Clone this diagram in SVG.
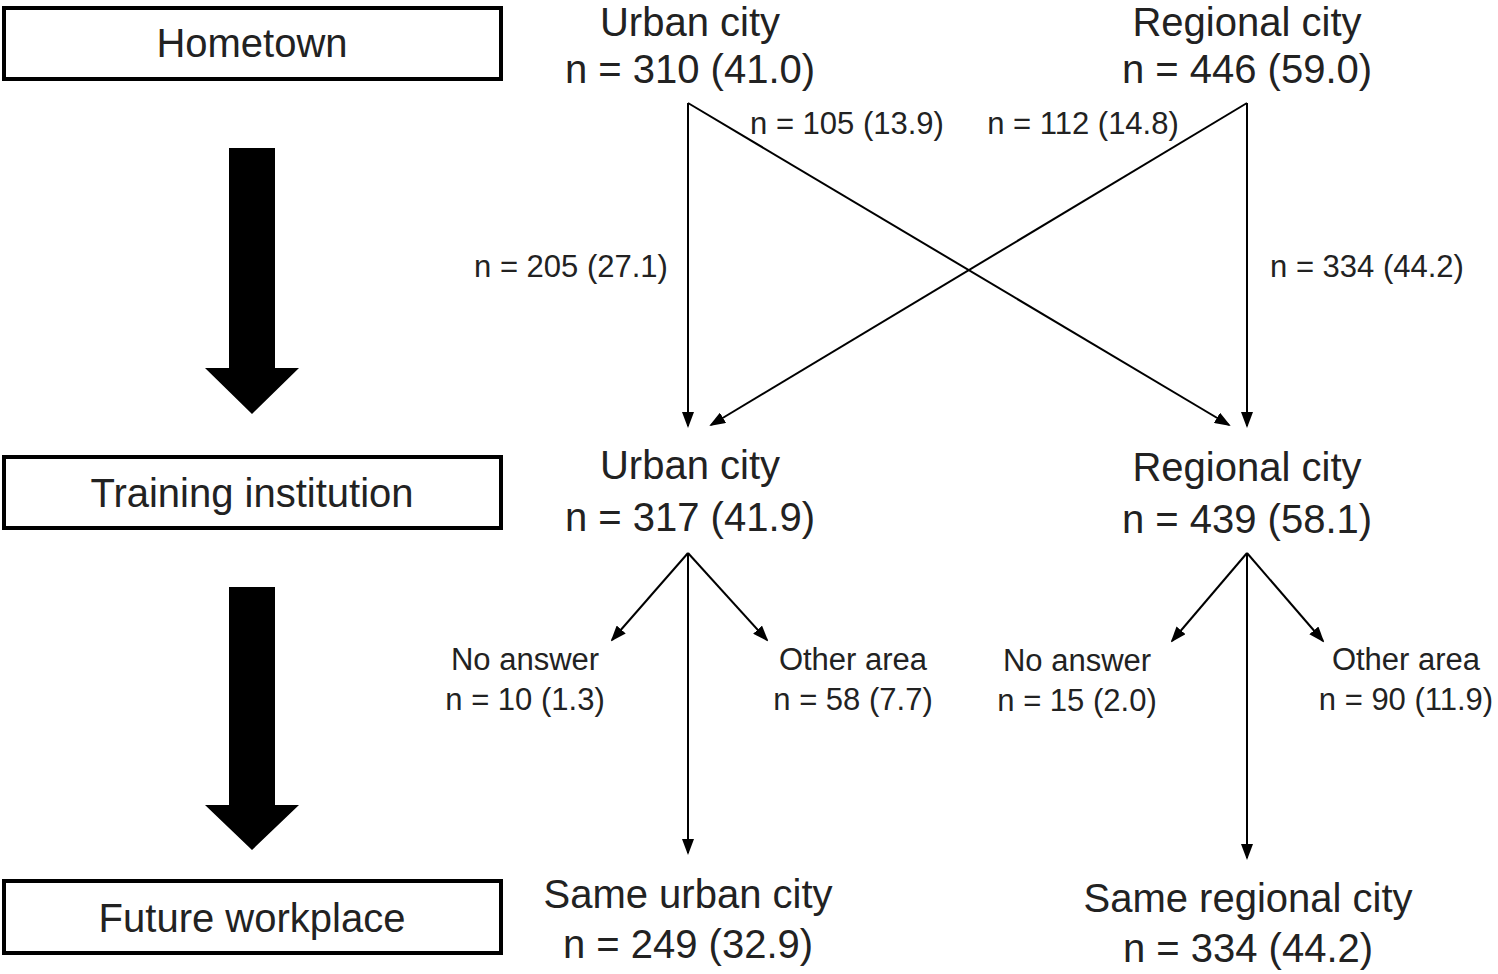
<svg xmlns="http://www.w3.org/2000/svg" width="1498" height="974" viewBox="0 0 1498 974">
<style>
text{font-family:"Liberation Sans",Arial,sans-serif;fill:#222;text-anchor:middle}
.big{font-size:40px}.sm{font-size:31px}
.box{fill:#fff;stroke:#000;stroke-width:4}
.ln{stroke:#000;stroke-width:2;fill:none;marker-end:url(#ah)}
</style>
<defs><marker id="ah" markerWidth="16" markerHeight="12" refX="14" refY="6" orient="auto" markerUnits="userSpaceOnUse"><path d="M0,0 L16,6 L0,12 Z" fill="#000"/></marker></defs>
<rect width="1498" height="974" fill="#fff"/>
<g id="hometown"><rect class="box" x="4" y="8" width="497" height="71"/><text class="big" x="252" y="57">Hometown</text></g>
<g id="training"><rect class="box" x="4" y="457" width="497" height="71"/><text class="big" x="252" y="507">Training institution</text></g>
<g id="future"><rect class="box" x="4" y="881" width="497" height="72"/><text class="big" x="252" y="932">Future workplace</text></g>
<g id="bigarrow1"><path d="M229,148 H275 V368 H299 L252,414 L205,368 H229 Z" fill="#000"/></g>
<g id="bigarrow2"><path d="M229,587 H275 V805 H299 L252,850 L205,805 H229 Z" fill="#000"/></g>
<g id="h_urban"><text class="big" x="690" y="36">Urban city</text><text class="big" x="690" y="83">n = 310 (41.0)</text></g>
<g id="h_regional"><text class="big" x="1247" y="36">Regional city</text><text class="big" x="1247" y="83">n = 446 (59.0)</text></g>
<g id="t_urban"><text class="big" x="690" y="479">Urban city</text><text class="big" x="690" y="531">n = 317 (41.9)</text></g>
<g id="t_regional"><text class="big" x="1247" y="481">Regional city</text><text class="big" x="1247" y="533">n = 439 (58.1)</text></g>
<g id="u_noans"><text class="sm" x="525" y="670">No answer</text><text class="sm" x="525" y="710">n = 10 (1.3)</text></g>
<g id="u_other"><text class="sm" x="853" y="670">Other area</text><text class="sm" x="853" y="710">n = 58 (7.7)</text></g>
<g id="r_noans"><text class="sm" x="1077" y="671">No answer</text><text class="sm" x="1077" y="711">n = 15 (2.0)</text></g>
<g id="r_other"><text class="sm" x="1406" y="670">Other area</text><text class="sm" x="1406" y="710">n = 90 (11.9)</text></g>
<g id="f_urban"><text class="big" x="688" y="908">Same urban city</text><text class="big" x="688" y="958">n = 249 (32.9)</text></g>
<g id="f_regional"><text class="big" x="1248" y="912">Same regional city</text><text class="big" x="1248" y="962">n = 334 (44.2)</text></g>
<g id="connectors">
<line class="ln" x1="688" y1="103" x2="688" y2="426"/>
<line class="ln" x1="688" y1="103" x2="1229" y2="425"/>
<line class="ln" x1="1247" y1="103" x2="711" y2="425"/>
<line class="ln" x1="1247" y1="103" x2="1247" y2="426"/>
<line class="ln" x1="688" y1="553" x2="612" y2="640"/>
<line class="ln" x1="688" y1="553" x2="767" y2="640"/>
<line class="ln" x1="688" y1="553" x2="688" y2="853"/>
<line class="ln" x1="1247" y1="553" x2="1172" y2="641"/>
<line class="ln" x1="1247" y1="553" x2="1323" y2="641"/>
<line class="ln" x1="1247" y1="553" x2="1247" y2="858"/>
<text class="sm" x="847" y="134">n = 105 (13.9)</text>
<text class="sm" x="1083" y="134">n = 112 (14.8)</text>
<text class="sm" x="571" y="277">n = 205 (27.1)</text>
<text class="sm" x="1367" y="277">n = 334 (44.2)</text>
</g>
</svg>
